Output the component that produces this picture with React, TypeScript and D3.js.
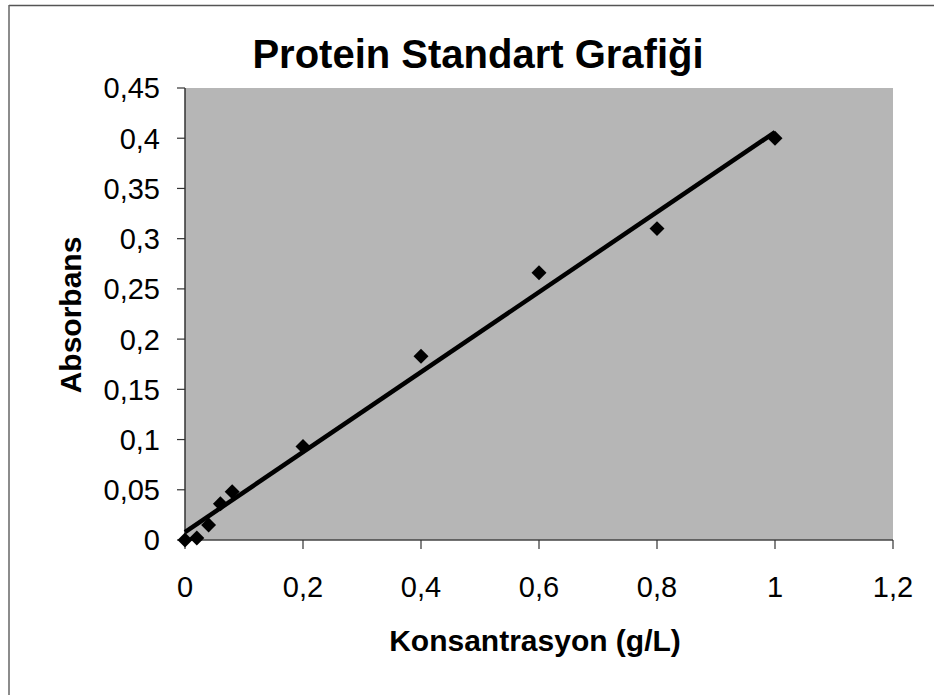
import { useMemo } from "react";
import * as d3 from "d3";

// standart noktaları (g/L, absorbans)
const konsantrasyon = [0, 0.02, 0.04, 0.06, 0.08, 0.2, 0.4, 0.6, 0.8, 1];
const absorbans = [0, 0.002, 0.015, 0.036, 0.048, 0.093, 0.183, 0.266, 0.31, 0.4];

const xTicks = [0, 0.2, 0.4, 0.6, 0.8, 1, 1.2];
const yTicks = [0, 0.05, 0.1, 0.15, 0.2, 0.25, 0.3, 0.35, 0.4, 0.45];

const WIDTH = 934;
const HEIGHT = 695;
const MARGIN = { top: 88, right: 41, bottom: 155, left: 185 };
const FONT = "'Liberation Sans', Arial, sans-serif";

const fmt = (v: number) => String(+v.toFixed(2)).replace(".", ",");

export default function App() {
  const boundsWidth = WIDTH - MARGIN.left - MARGIN.right;
  const boundsHeight = HEIGHT - MARGIN.top - MARGIN.bottom;

  const xScale = useMemo(
    () => d3.scaleLinear().domain([0, 1.2]).range([0, boundsWidth]),
    [boundsWidth]
  );
  const yScale = useMemo(
    () => d3.scaleLinear().domain([0, 0.45]).range([boundsHeight, 0]),
    [boundsHeight]
  );

  // linear trend line (least squares)
  const mx = d3.mean(konsantrasyon) || 0;
  const my = d3.mean(absorbans) || 0;
  const sxy = d3.sum(konsantrasyon, (x, i) => (x - mx) * (absorbans[i] - my));
  const sxx = d3.sum(konsantrasyon, (x) => (x - mx) * (x - mx));
  const slope = sxy / sxx;
  const intercept = my - slope * mx;
  const xMin = d3.min(konsantrasyon) || 0;
  const xMax = d3.max(konsantrasyon) || 0;

  const trend = d3
    .line<number>()
    .x((d) => xScale(d))
    .y((d) => yScale(intercept + slope * d))([xMin, xMax]);

  const diamond = d3.symbol().type(d3.symbolSquare).size(112)();

  return (
    <svg
      width={WIDTH}
      height={HEIGHT}
      style={{ position: "absolute", left: 0, top: 0, background: "#fff" }}
      fontFamily={FONT}
    >
      {/* outer frame */}
      <line x1={9} x2={WIDTH} y1={5.5} y2={5.5} stroke="#555" strokeWidth={1.5} />
      <line x1={9} x2={9} y1={5} y2={HEIGHT} stroke="#666" strokeWidth={1.5} />

      <text
        x={478}
        y={68}
        textAnchor="middle"
        fontSize={40}
        fontWeight="bold"
        fill="#000"
      >
        Protein Standart Grafiği
      </text>

      <g transform={`translate(${MARGIN.left},${MARGIN.top})`}>
        <rect width={boundsWidth} height={boundsHeight} fill="#b6b6b6" />

        {/* axes */}
        <line x1={0} x2={0} y1={0} y2={boundsHeight} stroke="#333" strokeWidth={1.5} />
        <line
          x1={0}
          x2={boundsWidth}
          y1={boundsHeight}
          y2={boundsHeight}
          stroke="#444"
          strokeWidth={1.5}
        />

        {yTicks.map((t) => (
          <g key={"y" + t} transform={`translate(0,${yScale(t)})`}>
            <line x1={-8} x2={0} stroke="#333" strokeWidth={1.2} />
            <text
              x={-25}
              dy="0.36em"
              textAnchor="end"
              fontSize={29}
              fill="#000"
            >
              {fmt(t)}
            </text>
          </g>
        ))}

        {xTicks.map((t) => (
          <g key={"x" + t} transform={`translate(${xScale(t)},${boundsHeight})`}>
            <line y1={0} y2={9} stroke="#333" strokeWidth={1.2} />
            <text y={57} textAnchor="middle" fontSize={29} fill="#000">
              {fmt(t)}
            </text>
          </g>
        ))}

        {trend && (
          <path d={trend} fill="none" stroke="#000" strokeWidth={4.5} />
        )}

        {konsantrasyon.map((x, i) => (
          <path
            key={i}
            d={diamond || ""}
            fill="#000"
            transform={`translate(${xScale(x)},${yScale(absorbans[i])}) rotate(45)`}
          />
        ))}
      </g>

      <text
        x={535}
        y={651}
        textAnchor="middle"
        fontSize={30}
        fontWeight="bold"
        fill="#000"
      >
        Konsantrasyon (g/L)
      </text>

      <text
        transform="translate(81,315) rotate(-90)"
        textAnchor="middle"
        fontSize={30}
        fontWeight="bold"
        fill="#000"
      >
        Absorbans
      </text>
    </svg>
  );
}
